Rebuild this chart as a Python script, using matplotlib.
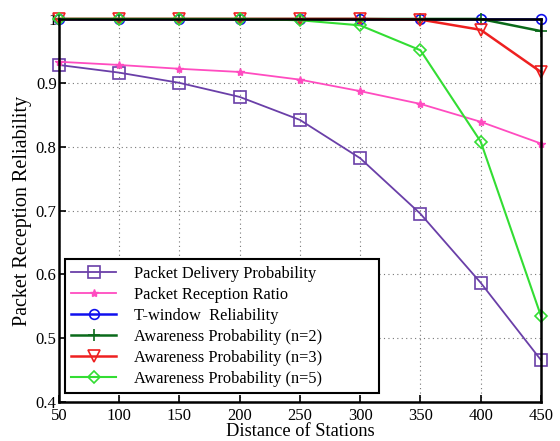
import matplotlib.pyplot as plt

plt.rcParams['font.family'] = ['Liberation Serif', 'DejaVu Serif']

distance = [50, 100, 150, 200, 250, 300, 350, 400, 450]
delivery_prob = [0.928, 0.916, 0.900, 0.878, 0.842, 0.782, 0.695, 0.587, 0.466]
reception_ratio = [0.933, 0.928, 0.922, 0.917, 0.905, 0.887, 0.867, 0.839, 0.805]
twindow_rel = [1.0, 1.0, 1.0, 1.0, 1.0, 1.0, 1.0, 1.0, 1.0]
aware_n2 = [1.0, 1.0, 1.0, 1.0, 1.0, 1.0, 1.0, 1.0, 0.981]
aware_n3 = [1.0, 1.0, 1.0, 1.0, 1.0, 1.0, 0.999, 0.983, 0.917]
aware_n5 = [1.0, 1.0, 1.0, 1.0, 0.998, 0.990, 0.951, 0.808, 0.535]

fig = plt.figure(figsize=(5.6, 4.41), dpi=100)
ax = fig.add_axes([0.105, 0.088, 0.861, 0.869])

ax.plot(distance, delivery_prob, color='#6a3fa8', marker='s', mfc='none', ms=8, mew=1.2, lw=1.3,
        label='Packet Delivery Probability', clip_on=False)
ax.plot(distance, reception_ratio, color='#ff4cc0', marker='*', ms=6, lw=1.3,
        label='Packet Reception Ratio', clip_on=False)
ax.plot(distance, twindow_rel, color='#1010ee', marker='o', mfc='none', ms=7, mew=1.2, lw=1.8,
        label='T-window  Reliability', clip_on=False)
ax.plot(distance, aware_n2, color='#0a6a1a', marker='+', ms=8, mew=1.2, lw=1.8,
        label='Awareness Probability (n=2)', clip_on=False)
ax.plot(distance, aware_n3, color='#ee2020', marker='v', mfc='none', ms=8, mew=1.2, lw=1.8,
        label='Awareness Probability (n=3)', clip_on=False)
ax.plot(distance, aware_n5, color='#33dd33', marker='D', mfc='none', ms=6, mew=1.2, lw=1.5,
        label='Awareness Probability (n=5)', clip_on=False)

ax.set_xlim(50, 450)
ax.set_ylim(0.4, 1.0)
ax.set_xticks(distance)
ax.set_yticks([0.4, 0.5, 0.6, 0.7, 0.8, 0.9, 1.0])
ax.set_yticklabels(['0.4', '0.5', '0.6', '0.7', '0.8', '0.9', '1'])
ax.tick_params(direction='in', labelsize=12, length=5, width=1.2)
ax.tick_params(axis='x', pad=4.5)
ax.tick_params(axis='y', pad=1.5)
ax.grid(True, linestyle=(0, (1, 3)), color='#777777', linewidth=0.8)
for s in ax.spines.values():
    s.set_linewidth(1.8)

ax.set_xlabel('Distance of Stations', fontsize=13.2, labelpad=-1)
ax.set_ylabel('Packet Reception Reliability', fontsize=14.5, labelpad=3)

leg = ax.legend(loc='lower left', bbox_to_anchor=(0.0124, 0.0235, 0.651, 0.3), mode='expand',
                fontsize=11.8, fancybox=False, framealpha=1,
                edgecolor='black', borderaxespad=0, handlelength=2.75,
                handletextpad=1.1, labelspacing=0.3, borderpad=0.4)
leg.get_frame().set_linewidth(1.5)

fig.savefig('out.png', dpi=100)
